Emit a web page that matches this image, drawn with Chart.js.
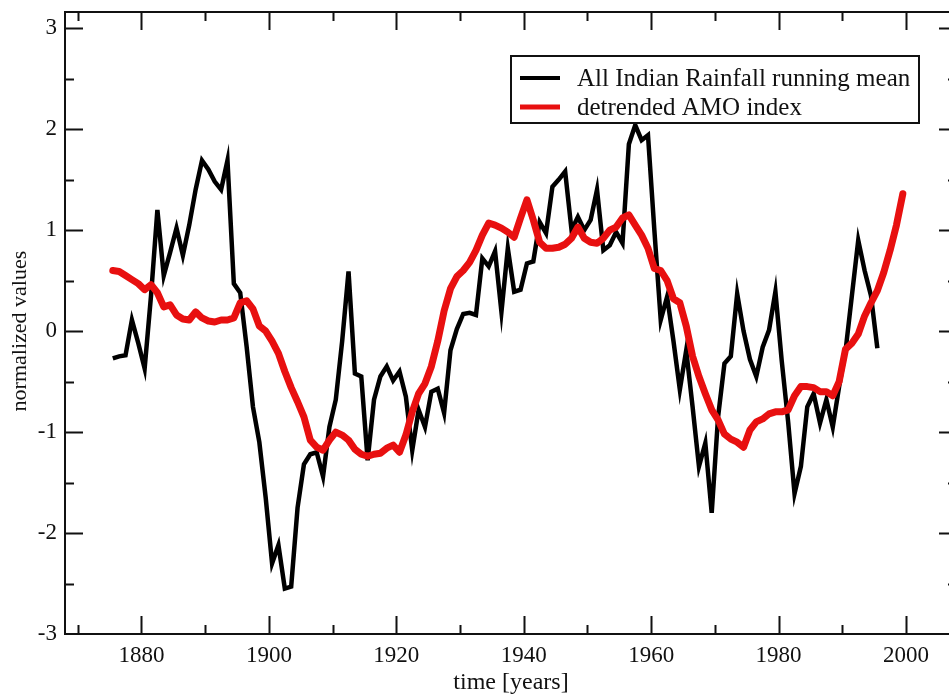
<!DOCTYPE html>
<html>
<head>
<meta charset="utf-8">
<script src="https://cdn.jsdelivr.net/npm/chart.js@4.4.1/dist/chart.umd.min.js"></script>
<style>
  html, body { margin: 0; padding: 0; overflow: hidden; background: #fff; }
  #wrap { position: absolute; left: 0; top: 0; width: 975px; height: 695px; }
</style>
</head>
<body>
<div id="wrap"><canvas id="c"></canvas></div>
<script>
// ---- data ----
const rainfallStart = 1875;
const rainfallValues = [
  -0.27, -0.25, -0.24, 0.11, -0.12, -0.37, 0.35, 1.20, 0.55, 0.78,
  1.02, 0.75, 1.05, 1.40, 1.69, 1.60, 1.48, 1.40, 1.69, 0.47,
  0.38, -0.15, -0.75, -1.10, -1.65, -2.30, -2.12, -2.55, -2.53, -1.75,
  -1.32, -1.22, -1.20, -1.44, -0.95, -0.68, -0.10, 0.59, -0.42, -0.45,
  -1.28, -0.68, -0.45, -0.35, -0.49, -0.40, -0.65, -1.18, -0.78, -0.95,
  -0.60, -0.57, -0.81, -0.19, 0.02, 0.17, 0.18, 0.16, 0.72, 0.64,
  0.79, 0.19, 0.82, 0.39, 0.41, 0.67, 0.69, 1.08, 0.97, 1.43,
  1.50, 1.58, 1.00, 1.13, 1.00, 1.10, 1.40, 0.80, 0.85, 0.98,
  0.87, 1.85, 2.04, 1.89, 1.94, 1.00, 0.11, 0.34, -0.10, -0.58,
  -0.19, -0.75, -1.34, -1.11, -1.80, -0.85, -0.32, -0.25, 0.37, 0.00,
  -0.28, -0.45, -0.16, 0.01, 0.39, -0.30, -0.90, -1.61, -1.34, -0.75,
  -0.62, -0.91, -0.68, -0.95, -0.55, -0.20, 0.35, 0.90, 0.60, 0.35,
  -0.17
];
const amoStart = 1875;
const amoValues = [
  0.60, 0.59, 0.55, 0.51, 0.47, 0.41, 0.46, 0.38, 0.24, 0.26,
  0.16, 0.12, 0.11, 0.19, 0.13, 0.10, 0.09, 0.11, 0.11, 0.13,
  0.28, 0.30, 0.22, 0.05, 0.00, -0.10, -0.22, -0.40, -0.56, -0.70,
  -0.85, -1.08, -1.15, -1.18, -1.08, -1.00, -1.03, -1.08, -1.17, -1.22,
  -1.24, -1.22, -1.21, -1.16, -1.13, -1.20, -1.03, -0.80, -0.62, -0.52,
  -0.35, -0.10, 0.20, 0.42, 0.54, 0.60, 0.68, 0.80, 0.95, 1.07,
  1.05, 1.02, 0.98, 0.93, 1.12, 1.30, 1.10, 0.88, 0.82, 0.82,
  0.83, 0.86, 0.92, 1.03, 0.92, 0.88, 0.87, 0.92, 1.00, 1.03,
  1.12, 1.15, 1.05, 0.95, 0.82, 0.62, 0.60, 0.50, 0.32, 0.28,
  0.05, -0.25, -0.45, -0.62, -0.78, -0.88, -1.02, -1.07, -1.10, -1.15,
  -0.98, -0.90, -0.87, -0.82, -0.80, -0.80, -0.78, -0.64, -0.55, -0.55,
  -0.56, -0.60, -0.60, -0.64, -0.50, -0.18, -0.12, -0.03, 0.15, 0.28,
  0.40, 0.58, 0.80, 1.05, 1.36
];
const seriesLabels = ['All Indian Rainfall running mean', 'detrended AMO index'];
const xTickValues = [1880, 1900, 1920, 1940, 1960, 1980, 2000];
const yTickValues = [-3, -2, -1, 0, 1, 2, 3];
const xTitle = 'time [years]';
const yTitle = 'normalized values';

// values are annual means, placed at mid-year
const toPoints = (start, vals) => vals.map((v, i) => ({ x: start + i + 0.5, y: v }));

const SERIF = '"Liberation Serif", "Times New Roman", serif';
const RED = 'rgb(232,16,16)';

const framePlugin = {
  id: 'frame',
  afterDraw(chart) {
    const { ctx, chartArea: a, scales: { x, y } } = chart;
    ctx.save();
    ctx.strokeStyle = '#111';
    ctx.lineWidth = 2;
    ctx.strokeRect(a.left, a.top, a.right - a.left, a.bottom - a.top);
    ctx.beginPath();
    const xs = [];
    xTickValues.forEach(v => { xs.push([v, 18]); xs.push([v - 10, 9]); });
    xs.forEach(([v, len]) => {
      const px = Math.round(x.getPixelForValue(v)) + 0.5;
      if (px < a.left || px > a.right) return;
      ctx.moveTo(px, a.bottom); ctx.lineTo(px, a.bottom - len);
      ctx.moveTo(px, a.top); ctx.lineTo(px, a.top + len);
    });
    const ys = [];
    yTickValues.forEach(v => { ys.push([v, 18]); ys.push([v + 0.5, 9]); });
    ys.forEach(([v, len]) => {
      const py = Math.round(y.getPixelForValue(v)) + 0.5;
      if (py < a.top || py > a.bottom) return;
      ctx.moveTo(a.left, py); ctx.lineTo(a.left + len, py);
      ctx.moveTo(a.right, py); ctx.lineTo(a.right - len, py);
    });
    ctx.stroke();

    // y axis title, centred on the zero line like the reference
    ctx.save();
    ctx.translate(20, y.getPixelForValue(0));
    ctx.rotate(-Math.PI / 2);
    ctx.font = '22px ' + SERIF;
    ctx.fillStyle = '#111';
    ctx.textAlign = 'center';
    ctx.textBaseline = 'middle';
    ctx.fillText(yTitle, 0, 0);
    ctx.restore();

    // legend box
    const bx = a.left + 446, by = a.top + 44, bw = 408, bh = 67;
    ctx.fillStyle = '#fff';
    ctx.fillRect(bx, by, bw, bh);
    ctx.lineWidth = 2;
    ctx.strokeStyle = '#111';
    ctx.strokeRect(bx, by, bw, bh);
    const rows = [
      { label: chart.data.datasets[0].label, color: chart.data.datasets[0].borderColor, w: 4, dy: 22 },
      { label: chart.data.datasets[1].label, color: chart.data.datasets[1].borderColor, w: 5, dy: 51 }
    ];
    ctx.font = '25px ' + SERIF;
    ctx.textBaseline = 'middle';
    ctx.textAlign = 'left';
    rows.forEach(r => {
      ctx.beginPath();
      ctx.strokeStyle = r.color;
      ctx.lineWidth = r.w;
      ctx.moveTo(bx + 9, by + r.dy);
      ctx.lineTo(bx + 49, by + r.dy);
      ctx.stroke();
      ctx.fillStyle = '#111';
      ctx.fillText(r.label, bx + 66, by + r.dy + 1);
    });
    ctx.restore();
  }
};

new Chart(document.getElementById('c'), {
  type: 'line',
  data: {
    datasets: [
      {
        label: seriesLabels[0],
        data: toPoints(rainfallStart, rainfallValues),
        borderColor: '#000',
        borderWidth: 4.5,
        pointRadius: 0,
        tension: 0,
        fill: false,
        order: 1
      },
      {
        label: seriesLabels[1],
        data: toPoints(amoStart, amoValues),
        borderColor: RED,
        borderWidth: 7,
        pointRadius: 0,
        tension: 0,
        fill: false,
        borderJoinStyle: 'round',
        borderCapStyle: 'round',
        order: 0
      }
    ]
  },
  options: {
    responsive: true,
    maintainAspectRatio: false,
    animation: false,
    layout: { padding: { top: 12, right: 18, left: 0, bottom: 0 } },
    plugins: { legend: { display: false }, tooltip: { enabled: false } },
    scales: {
      x: {
        type: 'linear',
        min: 1868,
        max: 2008,
        grid: { display: false, drawTicks: false },
        border: { display: false },
        afterFit(s) { s.height = 61; s.paddingLeft = 0; s.paddingRight = 0; },
        afterBuildTicks(s) { s.ticks = xTickValues.map(v => ({ value: v })); },
        ticks: {
          color: '#111',
          padding: 8,
          maxRotation: 0,
          font: { family: SERIF, size: 23 },
          callback: v => String(v)
        },
        title: {
          display: true,
          text: xTitle,
          color: '#111',
          font: { family: SERIF, size: 24, lineHeight: 1 },
          padding: { top: 0, bottom: 0 }
        }
      },
      y: {
        type: 'linear',
        min: -3,
        max: 3.16,
        grid: { display: false, drawTicks: false },
        border: { display: false },
        afterFit(s) { s.width = 65; s.paddingTop = 0; s.paddingBottom = 0; },
        afterBuildTicks(s) { s.ticks = yTickValues.map(v => ({ value: v })); },
        ticks: {
          color: '#111',
          padding: 8,
          font: { family: SERIF, size: 23 },
          callback: v => String(v)
        },
        title: { display: false }
      }
    }
  },
  plugins: [framePlugin]
});
</script>
</body>
</html>
